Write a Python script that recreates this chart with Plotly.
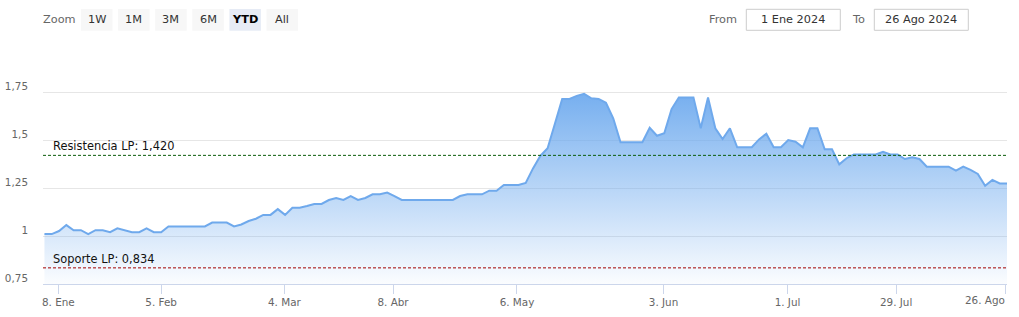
import plotly.graph_objects as go

# ---------------- data ----------------
values = [
    1.01, 1.01, 1.026, 1.057, 1.03, 1.03, 1.01, 1.03, 1.03, 1.02,
    1.04, 1.03, 1.02, 1.02, 1.04, 1.02, 1.02, 1.05, 1.05, 1.05,
    1.05, 1.05, 1.05, 1.07, 1.07, 1.07, 1.05, 1.06, 1.078, 1.09,
    1.11, 1.11, 1.14, 1.11, 1.147, 1.147, 1.156, 1.167, 1.167, 1.1875,
    1.198, 1.1875, 1.208, 1.1875, 1.198, 1.217, 1.217, 1.226, 1.208, 1.1875,
    1.1875, 1.1875, 1.1875, 1.1875, 1.1875, 1.1875, 1.1875,
    1.208, 1.217, 1.217,
    1.217, 1.236, 1.236, 1.266, 1.266, 1.266, 1.276, 1.352, 1.417, 1.457,
    1.585, 1.714, 1.714, 1.73, 1.74, 1.717, 1.714, 1.694, 1.613, 1.488,
    1.488, 1.488, 1.488, 1.564, 1.522, 1.535, 1.661, 1.722, 1.722, 1.722,
    1.561, 1.722, 1.561, 1.505, 1.561, 1.462, 1.462, 1.462, 1.503, 1.533,
    1.462, 1.462, 1.5, 1.491, 1.462, 1.561, 1.561, 1.452, 1.452, 1.373,
    1.405, 1.425, 1.425, 1.425, 1.425, 1.439, 1.425, 1.425, 1.401, 1.41,
    1.401, 1.361, 1.361, 1.361, 1.361, 1.34, 1.361, 1.344, 1.323, 1.262,
    1.292, 1.274, 1.274,
]
points = list(range(len(values)))

x_tick_labels = ["8. Ene", "5. Feb", "4. Mar", "8. Abr", "6. May",
                 "3. Jun", "1. Jul", "29. Jul", "26. Ago"]
x_tick_points = [1.9, 16.0, 32.9, 47.8, 64.8, 84.9, 101.9, 116.8, 131.8]

y_tick_values = [0.75, 1.0, 1.25, 1.5, 1.75]
y_tick_labels = ["0,75", "1", "1,25", "1,5", "1,75"]

resistance_value = 1.420
resistance_label = "Resistencia LP: 1,420"
support_value = 0.834
support_label = "Soporte LP: 0,834"

zoom_buttons = ["1W", "1M", "3M", "6M", "YTD", "All"]
selected_button = "YTD"
date_from = "1 Ene 2024"
date_to = "26 Ago 2024"

# ---------------- layout geometry (pixels) ----------------
W, H = 1019, 317
PL, PR, PT, PB = 43, 1007, 50, 284
Y_MIN = 0.75
Y_MAX = Y_MIN + (PB - PT) / 192.0


def px(xp):
    return (xp - PL) / (PR - PL)


def py(yp):
    return (PB - yp) / (PB - PT)


FONT = "DejaVu Sans"
LINE_COLOR = "#6fa9ec"
AXIS_FONT = dict(family=FONT, size=10.4, color="#666666")

fig = go.Figure()
fig.add_trace(go.Scatter(
    x=points, y=values, mode="lines",
    line=dict(color=LINE_COLOR, width=2),
    fill="tozeroy",
    fillgradient=dict(
        type="vertical", start=Y_MIN, stop=1.75,
        colorscale=[[0, "rgba(110,170,238,0.03)"], [1, "rgba(110,170,238,0.95)"]],
    ),
    hoverinfo="skip", showlegend=False,
))

shapes = []
annotations = []

# support / resistance plot lines
for val, lab, col in [(resistance_value, resistance_label, "#0b5d0b"),
                      (support_value, support_label, "#a30000")]:
    shapes.append(dict(type="line", xref="paper", yref="y", x0=0, x1=1, y0=val, y1=val,
                       line=dict(color=col, width=1, dash="3px,2px"), layer="above"))
    annotations.append(dict(xref="paper", yref="y", x=px(51), y=val, text=lab,
                            showarrow=False, xanchor="left", yanchor="bottom", yshift=0,
                            font=dict(family=FONT, size=11.4, color="#111111")))

# the last x label sits flush with the right edge (as the original shifts it inside)
shown_tick_labels = x_tick_labels[:-1] + [""]
annotations.append(dict(xref="paper", yref="paper", x=1, y=py(299.5),
                        text=x_tick_labels[-1], showarrow=False,
                        xanchor="right", yanchor="middle", font=AXIS_FONT))

# range selector
annotations.append(dict(xref="paper", yref="paper", x=px(41), y=py(19.5), text="Zoom",
                        showarrow=False, xanchor="left", yanchor="middle",
                        font=dict(family=FONT, size=11.3, color="#666666")))
for i, b in enumerate(zoom_buttons):
    x0 = 81 + i * 37.1
    sel = (b == selected_button)
    shapes.append(dict(type="rect", xref="paper", yref="paper",
                       x0=px(x0), x1=px(x0 + 31.5), y0=py(30.7), y1=py(9),
                       fillcolor="#e6ebf5" if sel else "#f7f7f7", line=dict(width=0),
                       layer="above"))
    annotations.append(dict(xref="paper", yref="paper", x=px(x0 + 15.75), y=py(19.5),
                            text=("<b>%s</b>" % b) if sel else b, showarrow=False,
                            xanchor="center", yanchor="middle",
                            font=dict(family=FONT, size=11.3,
                                      color="#000000" if sel else "#333333")))

# date inputs
for lab, bx0, bx1, lx, txt in [("From", 746.3, 840.3, 707.3, date_from),
                                ("To", 874.3, 968.3, 850.3, date_to)]:
    annotations.append(dict(xref="paper", yref="paper", x=px(lx), y=py(19.5), text=lab,
                            showarrow=False, xanchor="left", yanchor="middle",
                            font=dict(family=FONT, size=11.3, color="#666666")))
    shapes.append(dict(type="rect", xref="paper", yref="paper",
                       x0=px(bx0), x1=px(bx1), y0=py(30.3), y1=py(9.3),
                       fillcolor="white", line=dict(color="#cccccc", width=1),
                       layer="above"))
    annotations.append(dict(xref="paper", yref="paper", x=px((bx0 + bx1) / 2), y=py(19.5),
                            text=txt, showarrow=False, xanchor="center", yanchor="middle",
                            font=dict(family=FONT, size=11.3, color="#333333")))

fig.update_layout(
    width=W, height=H,
    margin=dict(l=PL, r=W - PR, t=PT, b=H - PB, pad=0),
    paper_bgcolor="white", plot_bgcolor="white",
    font=dict(family=FONT, size=10.4, color="#666666"),
    shapes=shapes, annotations=annotations,
    xaxis=dict(
        range=[-0.2, len(values) - 1], tickmode="array",
        tickvals=x_tick_points, ticktext=shown_tick_labels,
        showgrid=False, zeroline=False, automargin=False,
        showline=True, linecolor="#ccd6eb", linewidth=1,
        ticks="outside", ticklen=9, tickcolor="#ccd6eb", tickwidth=1,
        tickfont=AXIS_FONT,
        fixedrange=True,
    ),
    yaxis=dict(
        range=[Y_MIN, Y_MAX], tickmode="array",
        tickvals=y_tick_values, ticktext=y_tick_labels,
        showgrid=True, gridcolor="#e6e6e6", gridwidth=1,
        zeroline=False, showline=False, ticks="", automargin=False,
        ticklabelstandoff=14, ticklabelshift=-6,
        tickfont=AXIS_FONT,
        fixedrange=True,
    ),
)

fig.write_html("out.html", config={"displayModeBar": False})
